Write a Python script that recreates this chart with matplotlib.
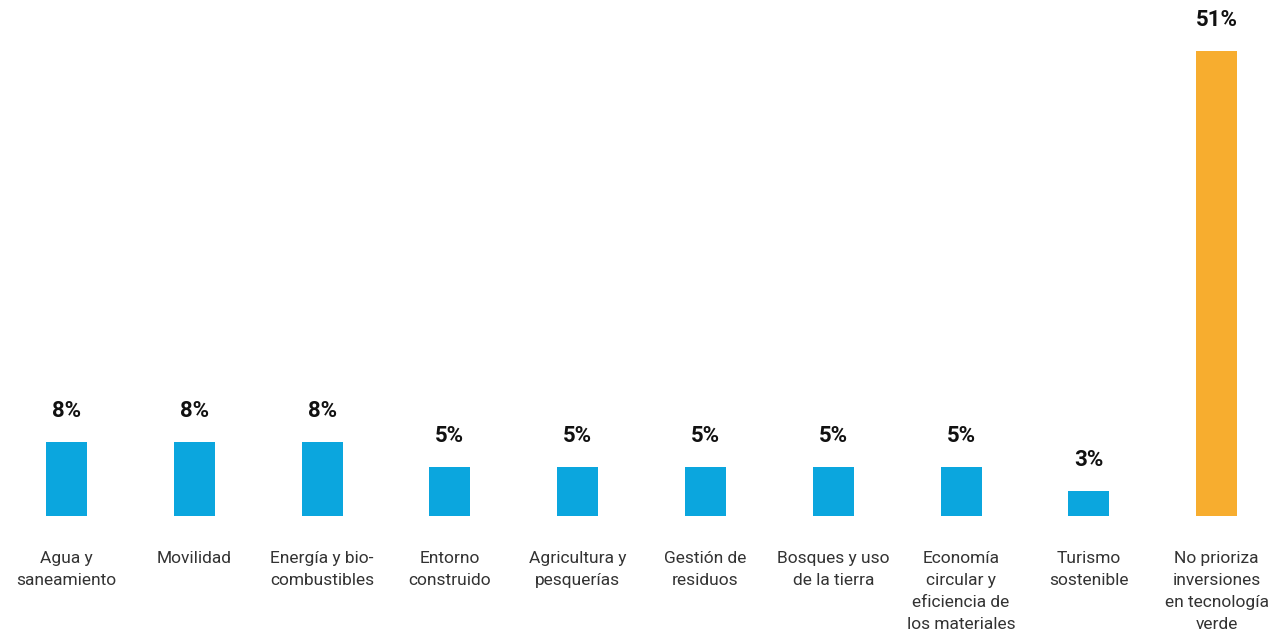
import matplotlib
matplotlib.use("Agg")
import matplotlib.pyplot as plt

categories = [
    "Agua y\nsaneamiento",
    "Movilidad",
    "Energía y bio-\ncombustibles",
    "Entorno\nconstruido",
    "Agricultura y\npesquerías",
    "Gestión de\nresiduos",
    "Bosques y uso\nde la tierra",
    "Economía\ncircular y\neficiencia de\nlos materiales",
    "Turismo\nsostenible",
    "No prioriza\ninversiones\nen tecnología\nverde",
]
values = [8.1, 8.1, 8.1, 5.4, 5.4, 5.4, 5.4, 5.4, 2.7, 51]
labels = ["8%", "8%", "8%", "5%", "5%", "5%", "5%", "5%", "3%", "51%"]
colors = ["#0BA6DE"] * 9 + ["#F7AD2F"]

plt.rcParams['font.family'] = ['Roboto', 'DejaVu Sans']

W, H = 1282, 634
fig = plt.figure(figsize=(W / 100, H / 100), dpi=100)
base_px = 118
ax = fig.add_axes([0, base_px / H, 1, (H - base_px) / H])
step = 127.8
first = 66.5
ax.set_xlim(-first / step, (W - first) / step)
ax.set_ylim(0, 516 / 9.12)
ax.axis('off')

x = list(range(len(values)))
ax.bar(x, values, width=41 / step, color=colors)

for xi, v, lab in zip(x, values, labels):
    ax.annotate(lab, (xi, v), xytext=(0, 22.5), textcoords='offset points',
                ha='center', va='center', fontsize=16, fontweight='bold',
                color='#111111')

for xi, cat in zip(x, categories):
    ax.annotate(cat, (xi, 0), xytext=(0, -25), textcoords='offset points',
                ha='center', va='top', fontsize=12.5, color='#333333',
                linespacing=1.58, annotation_clip=False)

fig.savefig("out.png", dpi=100)
